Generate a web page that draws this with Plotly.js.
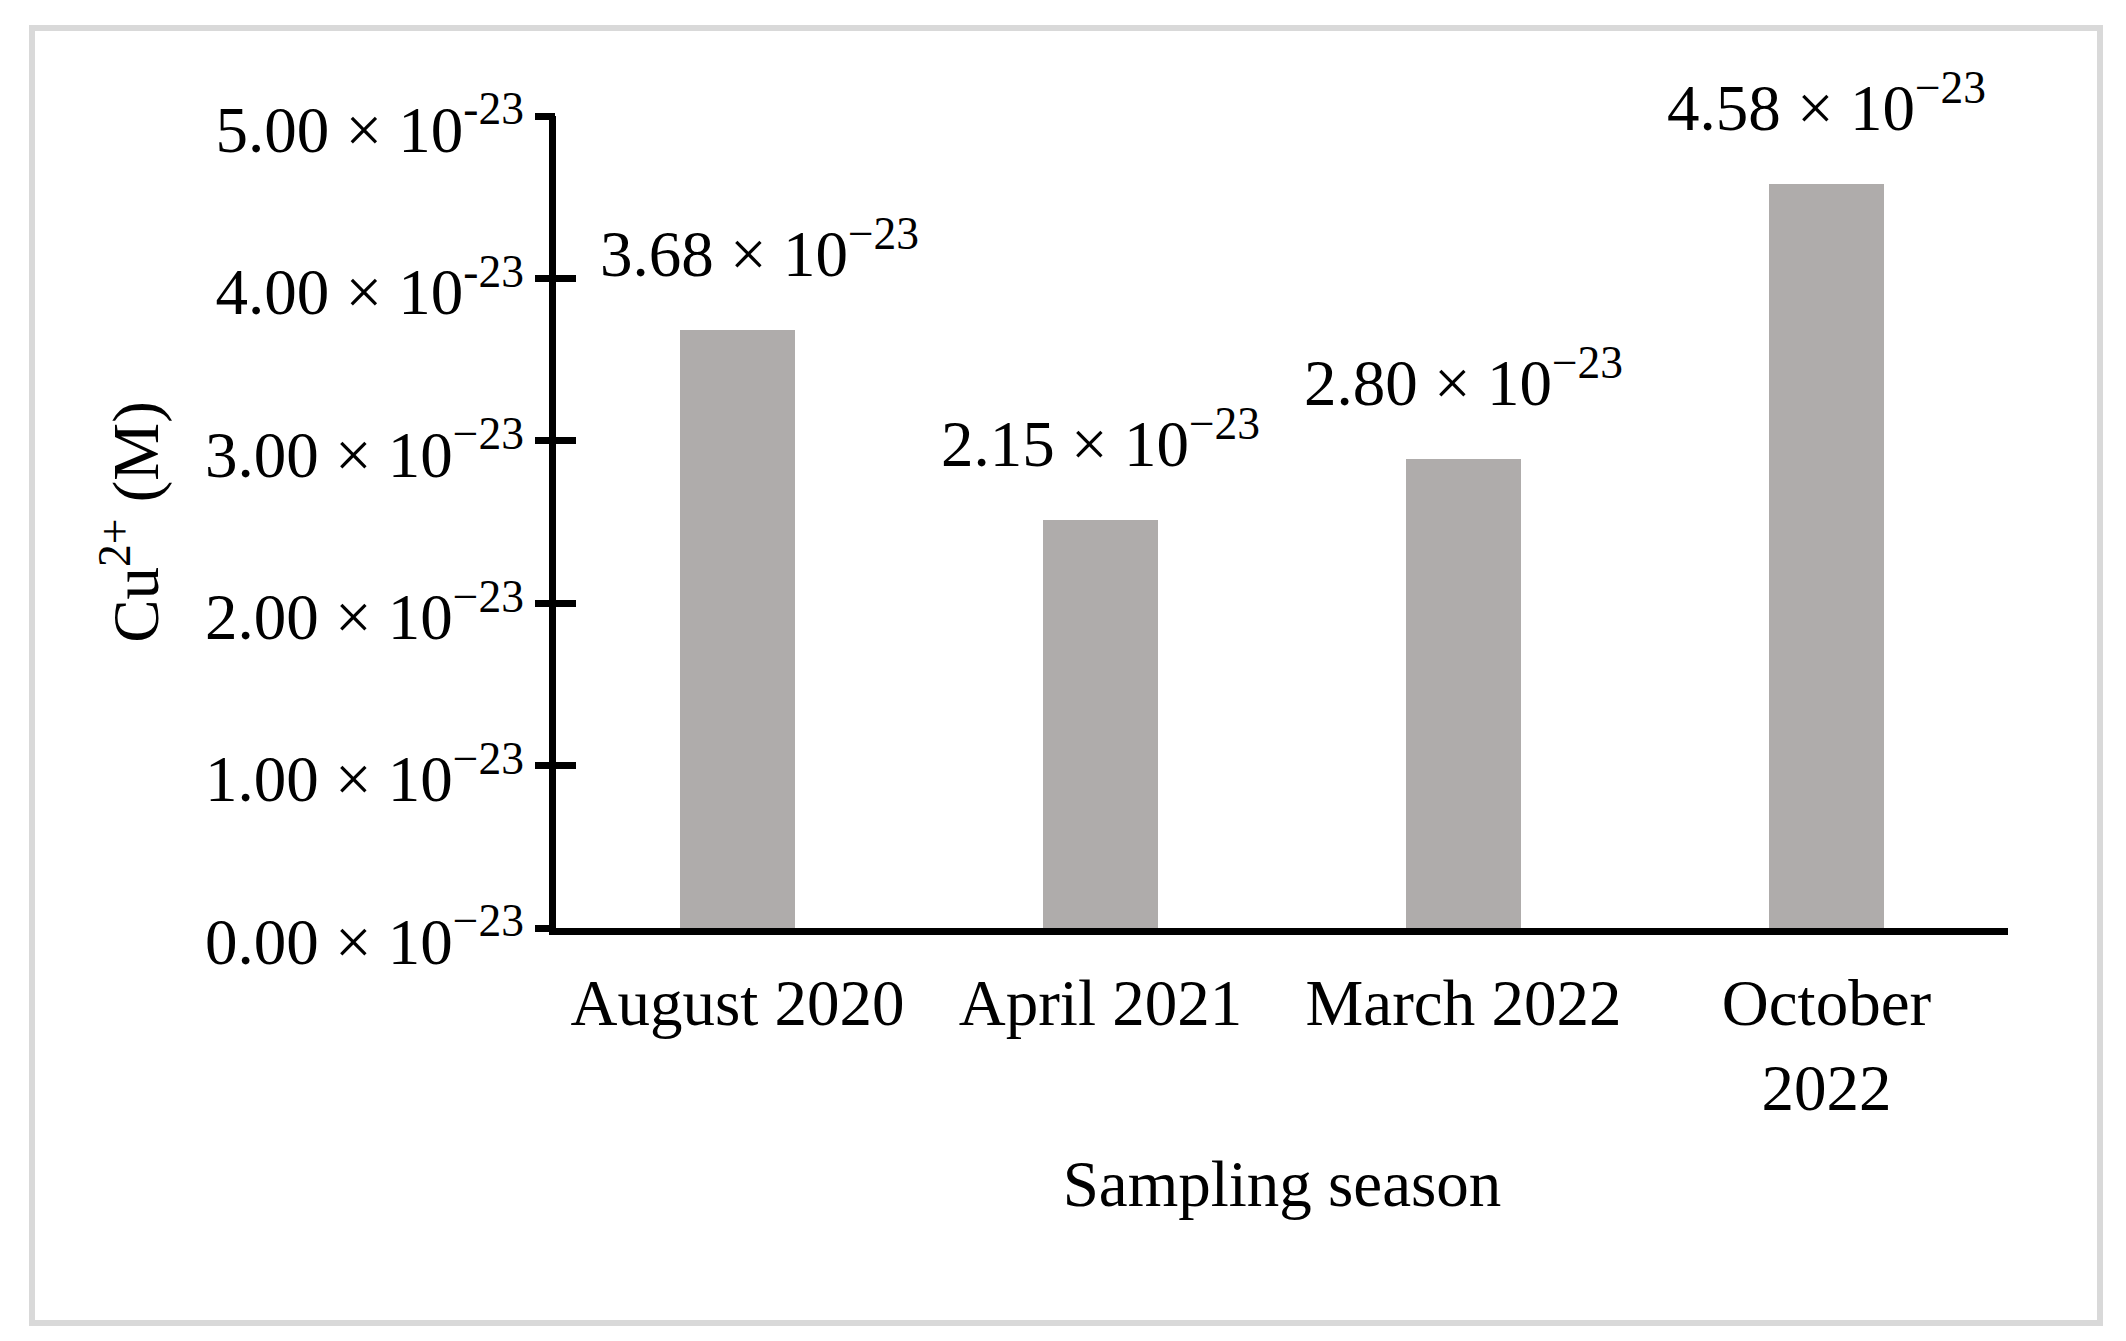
<!DOCTYPE html>
<html>
<head>
<meta charset="utf-8">
<script src="https://cdn.plot.ly/plotly-3.0.1.min.js"></script>
<style>
  html, body { margin: 0; padding: 0; background: #ffffff; }
  #wrap { position: relative; width: 2126px; height: 1341px; }
  #chart { position: absolute; left: 0; top: 0; width: 2126px; height: 1341px; }
  #frame { position: absolute; left: 29px; top: 25px; width: 2062px; height: 1289px;
           border: 6px solid #d9d9d9; pointer-events: none; }
</style>
</head>
<body>
<div id="wrap">
  <div id="chart"></div>
  <div id="frame"></div>
</div>
<script>
// Categories (sampling seasons)
const categories = ["August 2020", "April 2021", "March 2022", "October 2022"];
const categoryLabels = ["August 2020", "April 2021", "March 2022", "October<br>2022"];
// Bar heights (M)
const cuValues = [3.68e-23, 2.51e-23, 2.89e-23, 4.58e-23];
// Printed value labels above the bars
const valueLabels = [
  "3.68 × 10<sup>−23</sup>",
  "2.15 × 10<sup>−23</sup>",
  "2.80 × 10<sup>−23</sup>",
  "4.58 × 10<sup>−23</sup>"
];
// Y tick values and labels
const yTickVals = [0, 1e-23, 2e-23, 3e-23, 4e-23, 5e-23];
const yTickText = [
  "0.00 × 10<sup>−23</sup>",
  "1.00 × 10<sup>−23</sup>",
  "2.00 × 10<sup>−23</sup>",
  "3.00 × 10<sup>−23</sup>",
  "4.00 × 10<sup>-23</sup>",
  "5.00 × 10<sup>-23</sup>"
];

const FONT = "Liberation Serif, Times New Roman, serif";
const FS = 65;

const trace = {
  type: "bar",
  x: categories,
  y: cuValues,
  width: 0.317,
  marker: { color: "#afacab", line: { width: 0 } },
  hoverinfo: "skip",
  showlegend: false
};

const annotations = categories.map((c, i) => ({
  x: c,
  y: cuValues[i],
  xref: "x",
  yref: "y",
  text: valueLabels[i],
  showarrow: false,
  xanchor: "center",
  yanchor: "bottom",
  yshift: 38,
  xshift: i === 0 ? 22 : 0,
  font: { family: FONT, size: FS, color: "#000000" }
}));

const layout = {
  width: 2126,
  height: 1341,
  paper_bgcolor: "#ffffff",
  plot_bgcolor: "#ffffff",
  margin: { l: 556, r: 118, t: 116, b: 413, pad: 0 },
  font: { family: FONT, size: FS, color: "#000000" },
  bargap: 0,
  xaxis: {
    type: "category",
    categoryorder: "array",
    categoryarray: categories,
    tickvals: categories,
    ticktext: categoryLabels,
    range: [-0.5, 3.5],
    showline: true,
    linecolor: "#000000",
    linewidth: 7,
    ticks: "",
    showgrid: false,
    zeroline: false,
    ticklabelstandoff: 12,
    tickfont: { family: FONT, size: FS, color: "#000000" },
    title: { text: "Sampling season", font: { family: FONT, size: FS, color: "#000000" }, standoff: 40 }
  },
  yaxis: {
    range: [0, 5e-23],
    tickvals: yTickVals,
    ticktext: yTickText,
    showline: true,
    linecolor: "#000000",
    linewidth: 7,
    ticks: "inside",
    ticklen: 20,
    tickwidth: 7,
    tickcolor: "#000000",
    showgrid: false,
    zeroline: false,
    ticklabelstandoff: 12,
    ticklabelshift: 13,
    tickfont: { family: FONT, size: FS, color: "#000000" },
    title: { text: "Cu<sup>2+</sup> (M)", font: { family: FONT, size: FS, color: "#000000" }, standoff: 28 }
  },
  yaxis2: {
    overlaying: "y",
    matches: "y",
    side: "left",
    tickvals: yTickVals,
    showticklabels: false,
    ticks: "outside",
    ticklen: 20,
    tickwidth: 7,
    tickcolor: "#000000",
    showline: false,
    showgrid: false,
    zeroline: false
  },
  annotations: annotations
};

// invisible helper trace so the second y axis (outer tick halves) is drawn
const helper = {
  type: "scatter",
  x: categories,
  y: cuValues,
  yaxis: "y2",
  mode: "none",
  hoverinfo: "skip",
  showlegend: false
};

Plotly.newPlot("chart", [trace, helper], layout, { displayModeBar: false, staticPlot: true });
</script>
</body>
</html>
